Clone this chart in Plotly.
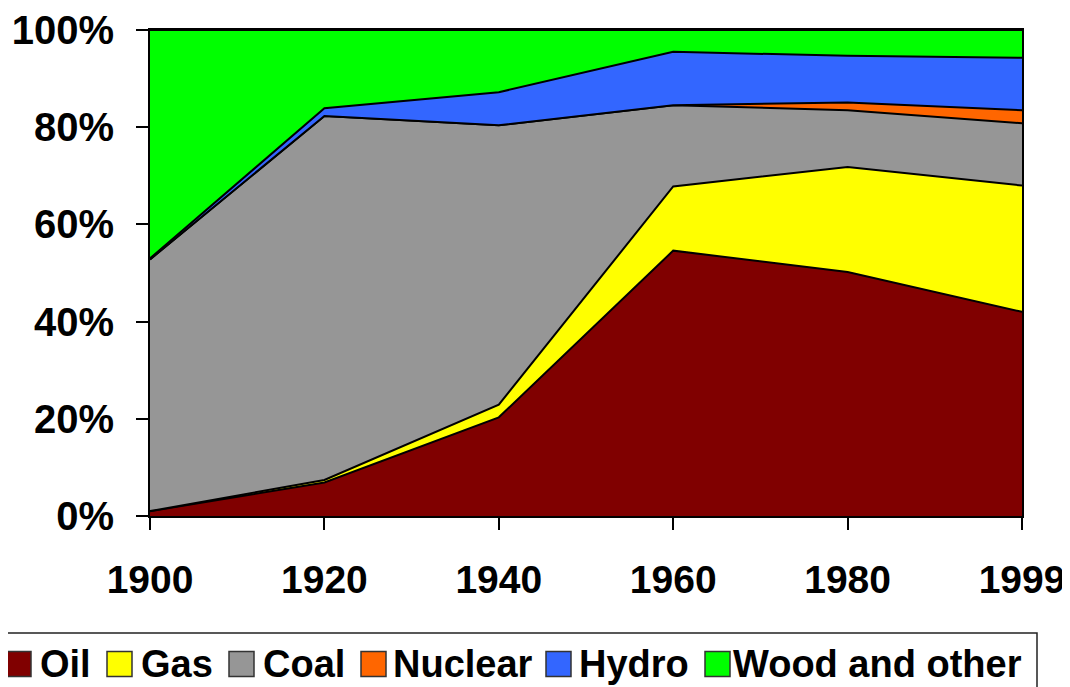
import plotly.graph_objects as go

years = ["1900", "1920", "1940", "1960", "1980", "1999"]
oil = [1.0, 6.9, 20.3, 54.6, 50.2, 42.0]
gas = [0.0, 0.5, 2.6, 13.2, 21.6, 26.0]
coal = [51.8, 74.9, 57.5, 16.7, 11.7, 12.8]
nuclear = [0.0, 0.0, 0.0, 0.0, 1.6, 2.7]
hydro = [0.2, 1.6, 6.8, 11.0, 9.6, 10.8]
wood = [47.0, 16.1, 12.8, 4.5, 5.3, 5.7]

series_names = ["Oil", "Gas", "Coal", "Nuclear", "Hydro", "Wood and other"]
series_values = [oil, gas, coal, nuclear, hydro, wood]
series_colors = ["#800000", "#FFFF00", "#969696", "#FF6600", "#3366FF", "#00FF00"]
y_ticks = [0, 20, 40, 60, 80, 100]
y_ticklabels = ["0%", "20%", "40%", "60%", "80%", "100%"]

# page body has an 8px default margin; compensate so the plot lands where intended
OFF = 8
W, H = 1070 - OFF, 687 - OFF
PL, PR, PT, PB = 150, 1022, 30, 516          # target plot box in window pixels
L, T = PL - OFF, PT - OFF
R, B = W - (PR - OFF), H - (PB - OFF)
PW, PH = PR - PL, PB - PT
FONT = "Liberation Sans, Arial, sans-serif"

fig = go.Figure()
for name, vals, col in zip(series_names, series_values, series_colors):
    fig.add_trace(go.Scatter(
        x=years, y=vals, name=name, mode="lines",
        stackgroup="one", fillcolor=col,
        line=dict(color="black", width=2),
        showlegend=False, hoverinfo="x+y+name",
    ))

def px_to_paper_x(px):
    return (px - PL) / PW

def px_to_paper_y(py):
    return (PB - py) / PH

shapes = []
annotations = []
# legend box
shapes.append(dict(type="rect", xref="paper", yref="paper",
                   x0=px_to_paper_x(-30), x1=px_to_paper_x(1037),
                   y0=px_to_paper_y(720), y1=px_to_paper_y(633),
                   line=dict(color="#222222", width=1.5), fillcolor="rgba(255,255,255,0)",
                   layer="above"))
swatch_left = [6, 107, 229, 361, 546, 705]
text_left = [38, 139, 261, 391, 577, 731]
sw = 25
cy = 664
for name, col, sx, tx in zip(series_names, series_colors, swatch_left, text_left):
    shapes.append(dict(type="rect", xref="paper", yref="paper",
                       x0=px_to_paper_x(sx), x1=px_to_paper_x(sx + sw),
                       y0=px_to_paper_y(cy + sw / 2), y1=px_to_paper_y(cy - sw / 2),
                       line=dict(color="#333333", width=1.5), fillcolor=col, layer="above"))
    annotations.append(dict(xref="paper", yref="paper", x=px_to_paper_x(tx), y=px_to_paper_y(cy),
                            xanchor="left", yanchor="middle", showarrow=False, text=name,
                            font=dict(family=FONT, size=38, color="black", weight="bold")))

fig.update_layout(
    width=W, height=H,
    margin=dict(l=L, r=R, t=T, b=B, pad=0, autoexpand=False),
    paper_bgcolor="white", plot_bgcolor="white",
    showlegend=False,
    shapes=shapes, annotations=annotations,
    xaxis=dict(type="category", range=[0, 5], showgrid=False, zeroline=False, automargin=False,
               showline=True, linecolor="black", linewidth=2, mirror=True,
               ticks="outside", ticklen=12, tickwidth=1.5, tickcolor="black",
               ticklabelstandoff=16,
               tickfont=dict(family=FONT, size=39, color="black", weight="bold")),
    yaxis=dict(range=[0, 100], showgrid=False, zeroline=False, automargin=False,
               tickvals=y_ticks, ticktext=y_ticklabels,
               showline=True, linecolor="black", linewidth=2, mirror=True,
               ticks="outside", ticklen=12, tickwidth=1.5, tickcolor="black",
               ticklabelstandoff=14,
               tickfont=dict(family=FONT, size=40, color="black", weight="bold")),
)

fig.write_html("out.html")
